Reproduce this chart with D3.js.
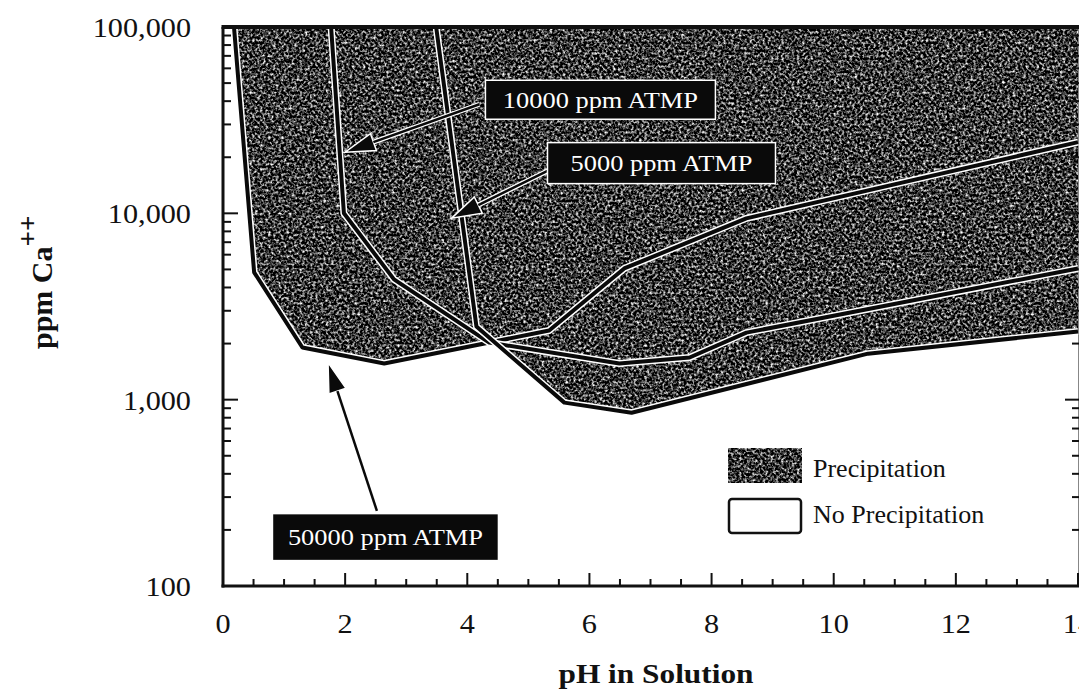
<!DOCTYPE html>
<html>
<head>
<meta charset="utf-8">
<script src="https://cdn.jsdelivr.net/npm/d3@7"></script>
<style>
  body { margin: 0; background: #fff; }
  svg { display: block; }
  text { font-family: "Liberation Serif", "Times New Roman", serif; fill: #111; }
</style>
</head>
<body>
<svg id="chart" width="1079" height="690"></svg>
<script>
// precipitation boundaries, pH vs ppm Ca++
const ph50000 = [0.18, 0.51, 1.30, 2.64, 5.34, 6.57, 8.57, 14];
const ca50000 = [100000, 4820, 1905, 1563, 2350, 5060, 9400, 24100];
const ph10000 = [1.77, 1.98, 2.80, 4.36, 6.49, 7.64, 8.57, 14];
const ca10000 = [100000, 10000, 4420, 2025, 1563, 1683, 2290, 5060];
const ph5000 = [3.49, 4.15, 5.59, 6.69, 10.56, 14];
const ca5000 = [100000, 2470, 964, 851, 1766, 2320];

// callouts
const labelText = ['10000 ppm ATMP', '5000 ppm ATMP', '50000 ppm ATMP'];
const labelPh = [6.18, 7.18, 2.66];
const labelCa = [40700, 18600, 183];
const arrowFromPh = [4.20, 5.33, 2.52];
const arrowFromCa = [38500, 17000, 253];
const arrowToPh = [2.0, 3.74, 1.72];
const arrowToCa = [21300, 9400, 1580];

const xTickValues = [0, 2, 4, 6, 8, 10, 12, 14];
const yTickValues = [100, 1000, 10000, 100000];
const yTickLabels = ['100', '1,000', '10,000', '100,000'];
const legendLabels = ['Precipitation', 'No Precipitation'];

const curves = [
  { ph: ph50000, ca: ca50000 },
  { ph: ph10000, ca: ca10000 },
  { ph: ph5000, ca: ca5000 }
];

const boxW = [230, 228, 226], boxH = [39, 41, 47];

const svg = d3.select('#chart');
const x = d3.scaleLinear().domain([0, 14]).range([223, 1078]);
const y = d3.scaleLog().domain([100, 100000]).range([586, 27]);

// stretch text a bit horizontally, the scan is wider than the font
function stretch(sel, k) {
  sel.each(function() {
    const w = this.getComputedTextLength();
    d3.select(this).attr('textLength', w * k).attr('lengthAdjust', 'spacingAndGlyphs');
  });
}

const defs = svg.append('defs');
const grain = defs.append('filter')
  .attr('id', 'grain')
  .attr('x', 0).attr('y', 0).attr('width', '100%').attr('height', '100%')
  .attr('color-interpolation-filters', 'sRGB');
grain.append('feTurbulence')
  .attr('type', 'fractalNoise')
  .attr('baseFrequency', 0.38)
  .attr('numOctaves', 2)
  .attr('seed', 7);
grain.append('feColorMatrix')
  .attr('type', 'matrix')
  .attr('values', '1 0 0 0 0  1 0 0 0 0  1 0 0 0 0  0 0 0 0 1');
const ct = grain.append('feComponentTransfer');
['feFuncR', 'feFuncG', 'feFuncB'].forEach(t =>
  ct.append(t).attr('type', 'linear').attr('slope', 2.4).attr('intercept', -0.98));

const line = d3.line().x(d => x(d[0])).y(d => y(d[1]));
const pts = c => c.ph.map((p, i) => [p, c.ca[i]]);

// region above every boundary = precipitation
const clip = defs.append('clipPath').attr('id', 'precip');
curves.forEach(c => {
  const p = pts(c).concat([[14, 100000]]);
  clip.append('path').attr('d', line(p) + 'Z');
});

svg.append('rect')
  .attr('x', x(0)).attr('y', y(100000))
  .attr('width', x(14) - x(0)).attr('height', y(100) - y(100000))
  .attr('fill', '#fff')
  .attr('filter', 'url(#grain)')
  .attr('clip-path', 'url(#precip)');

// axes
const axisG = svg.append('g').attr('stroke', '#111').attr('fill', 'none');
axisG.append('line').attr('x1', x(0)).attr('x2', x(0)).attr('y1', y(100000)).attr('y2', y(100) + 1.5).attr('stroke-width', 3);
axisG.append('line').attr('x1', x(0) - 1.5).attr('x2', 1079).attr('y1', y(100)).attr('y2', y(100)).attr('stroke-width', 3);
axisG.append('line').attr('x1', 1080).attr('x2', 1080).attr('y1', y(100000)).attr('y2', y(100)).attr('stroke-width', 3);

const xMinor = d3.range(0, 14.01, 0.5);
axisG.selectAll('.xt').data(xMinor).join('line')
  .attr('x1', d => x(d)).attr('x2', d => x(d))
  .attr('y1', y(100)).attr('y2', d => y(100) - (d % 2 === 0 ? 13 : 7))
  .attr('stroke-width', 2);

const yMinor = [];
yTickValues.slice(0, 3).forEach(v => { for (let k = 1; k < 10; k++) yMinor.push(v * k); });
yMinor.push(100000);
axisG.selectAll('.yt').data(yMinor).join('line')
  .attr('x1', x(0)).attr('x2', d => x(0) + (yTickValues.includes(d) ? 15 : 8))
  .attr('y1', d => y(d)).attr('y2', d => y(d))
  .attr('stroke-width', 2);
axisG.selectAll('.yr').data(yMinor).join('line')
  .attr('x1', 1080).attr('x2', d => 1080 - (yTickValues.includes(d) ? 15 : 8))
  .attr('y1', d => y(d)).attr('y2', d => y(d))
  .attr('stroke-width', 2);

const xl = svg.append('g').selectAll('text').data(xTickValues).join('text')
  .attr('x', d => x(d)).attr('y', 633)
  .attr('text-anchor', 'middle')
  .attr('font-size', 27)
  .text(d => d);
stretch(xl, 1.12);

const yl = svg.append('g').selectAll('text').data(yTickValues).join('text')
  .attr('x', 191).attr('y', d => y(d) + 10)
  .attr('text-anchor', 'end')
  .attr('font-size', 27)
  .text((d, i) => yTickLabels[i]);
stretch(yl, 1.12);

const title = svg.append('text')
  .attr('x', 656).attr('y', 683)
  .attr('text-anchor', 'middle')
  .attr('font-size', 27).attr('font-weight', 'bold')
  .text('pH in Solution');
stretch(title, 1.16);

const ylab = svg.append('text')
  .attr('transform', 'translate(52,349) rotate(-90)')
  .attr('font-size', 30).attr('font-weight', 'bold');
ylab.append('tspan').text('ppm Ca');
ylab.append('tspan').attr('dy', -15).attr('font-size', 27).text('++');

// boundary lines, black with white halo
curves.forEach(c => {
  svg.append('path').attr('d', line(pts(c)))
    .attr('fill', 'none').attr('stroke', '#fff').attr('stroke-width', 7).attr('stroke-linejoin', 'round');
  svg.append('path').attr('d', line(pts(c)))
    .attr('fill', 'none').attr('stroke', '#0a0a0a').attr('stroke-width', 4).attr('stroke-linejoin', 'round');
});

// callout arrows
labelText.forEach((t, i) => {
  const x1 = x(arrowFromPh[i]), y1 = y(arrowFromCa[i]);
  const x2 = x(arrowToPh[i]), y2 = y(arrowToCa[i]);
  const a = Math.atan2(y2 - y1, x2 - x1);
  const len = 30, hw = 9;
  const bx = x2 - len * Math.cos(a), by = y2 - len * Math.sin(a);
  const head = [
    [x2, y2],
    [bx + hw * Math.sin(a), by - hw * Math.cos(a)],
    [bx - hw * Math.sin(a), by + hw * Math.cos(a)]
  ];
  const g = svg.append('g');
  g.append('line').attr('x1', x1).attr('y1', y1).attr('x2', bx).attr('y2', by)
    .attr('stroke', '#fff').attr('stroke-width', 5);
  g.append('polygon').attr('points', head.join(' '))
    .attr('fill', '#0a0a0a').attr('stroke', '#fff').attr('stroke-width', 1.5);
  g.append('line').attr('x1', x1).attr('y1', y1).attr('x2', bx).attr('y2', by)
    .attr('stroke', '#0a0a0a').attr('stroke-width', 2.5);

  const cx = x(labelPh[i]), cy = y(labelCa[i]);
  g.append('rect')
    .attr('x', cx - boxW[i] / 2).attr('y', cy - boxH[i] / 2)
    .attr('width', boxW[i]).attr('height', boxH[i])
    .attr('fill', '#0a0a0a').attr('stroke', '#fff').attr('stroke-width', 1.5);
  const lt = g.append('text')
    .attr('x', cx).attr('y', cy + 8)
    .attr('text-anchor', 'middle')
    .attr('font-size', 24)
    .style('fill', '#fff')
    .text(t);
  stretch(lt, 1.1);
});

// legend
svg.append('rect').attr('x', 728).attr('y', 448).attr('width', 74).attr('height', 35)
  .attr('fill', '#fff').attr('filter', 'url(#grain)');
svg.append('rect').attr('x', 729).attr('y', 499).attr('width', 72).attr('height', 34).attr('rx', 3)
  .attr('fill', '#fff').attr('stroke', '#111').attr('stroke-width', 2.5);
const lg = svg.append('g').selectAll('text').data(legendLabels).join('text')
  .attr('x', 813).attr('y', (d, i) => 477 + i * 46)
  .attr('font-size', 25)
  .text(d => d);
stretch(lg, 1.04);

// top frame
svg.append('line').attr('x1', x(0) - 1.5).attr('x2', 1079).attr('y1', y(100000)).attr('y2', y(100000))
  .attr('stroke', '#111').attr('stroke-width', 4);
</script>
</body>
</html>
